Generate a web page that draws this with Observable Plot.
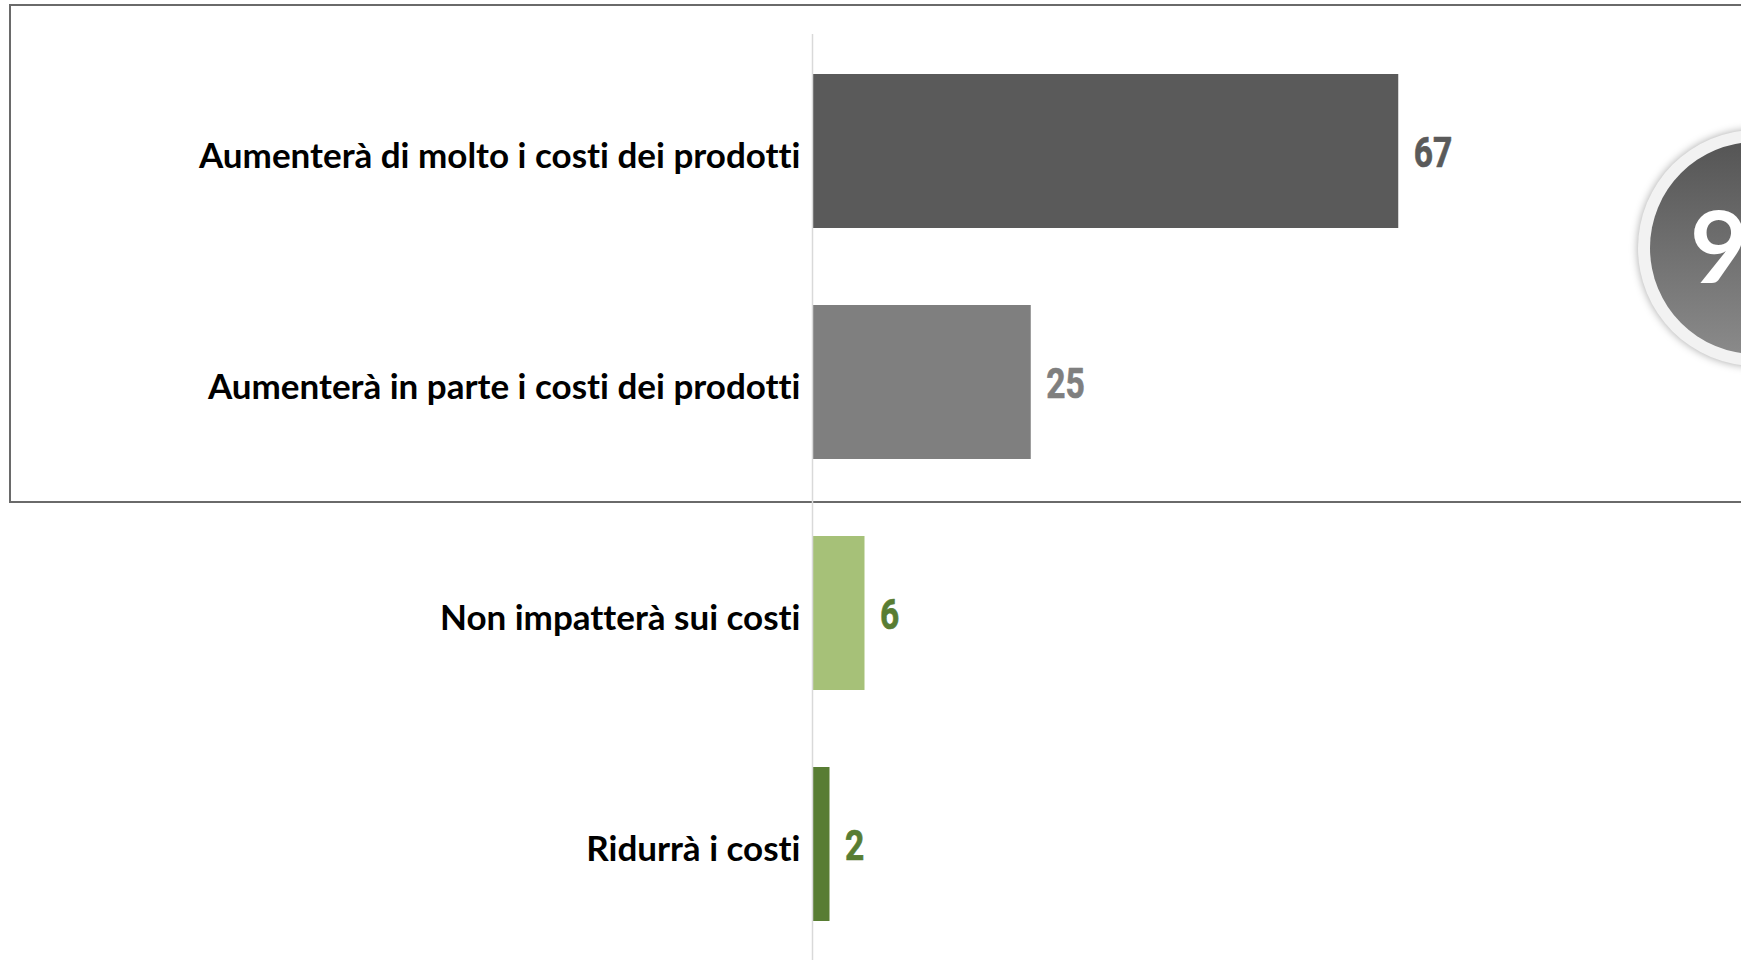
<!DOCTYPE html>
<html>
<head>
<meta charset="utf-8">
<script src="https://cdn.jsdelivr.net/npm/d3@7"></script>
<script src="https://cdn.jsdelivr.net/npm/@observablehq/plot@0.6"></script>
<style>
  html, body { margin: 0; padding: 0; background: #fff; overflow: hidden; width: 1741px; height: 961px; }
  #wrap { position: relative; width: 1741px; height: 961px; overflow: hidden; }
  #frame { position: absolute; left: 9px; top: 4px; width: 1800px; height: 499px; border: 2.5px solid #6a6a6a; box-sizing: border-box; }
  #chart { position: absolute; left: 0; top: 0; }
  #chart svg text { font-variant-ligatures: none; }
  #badge { position: absolute; left: 1638px; top: 130px; width: 236px; height: 236px; border-radius: 50%; background: #f2f2f2; box-shadow: 0 0 8px rgba(0,0,0,0.35); }
  #badge .inner { position: absolute; left: 12px; top: 12px; width: 212px; height: 212px; border-radius: 50%;
    background: linear-gradient(#555555, #8a8a8a); color: #fff; font-family: Lato, "Open Sans", sans-serif; font-weight: 700;
    font-size: 100px; line-height: 204px; text-indent: 40px; white-space: nowrap; }
</style>
</head>
<body>
<div id="wrap">
  <div id="frame"></div>
  <div id="chart"></div>
  <div id="badge"><div class="inner"></div></div>
</div>
<script>
const categories = [
  "Aumenterà di molto i costi dei prodotti",
  "Aumenterà in parte i costi dei prodotti",
  "Non impatterà sui costi",
  "Ridurrà i costi"
];
const values = [67, 25, 6, 2];
const barColors = ["#5a5a5a", "#7f7f7f", "#a6c178", "#587d33"];
const labelColors = ["#5a5a5a", "#7f7f7f", "#587d33", "#587d33"];
const highlighted = [0, 1]; // categories inside the framed box

const data = categories.map((c, i) => ({category: c, value: values[i], bar: barColors[i], lab: labelColors[i]}));

// narrow the value-label glyphs (condensed look)
function condense(factor) {
  return (index, scales, values, dims, ctx, next) => {
    const g = next(index, scales, values, dims, ctx);
    g.querySelectorAll("text").forEach(t => {
      const tr = t.getAttribute("transform");
      if (tr) {
        t.setAttribute("transform", tr + ` scale(${factor},1)`);
      } else {
        const x = +(t.getAttribute("x") || 0), y = +(t.getAttribute("y") || 0);
        t.removeAttribute("x"); t.removeAttribute("y");
        t.setAttribute("transform", `translate(${x},${y}) scale(${factor},1)`);
      }
    });
    return g;
  };
}

const chart = Plot.plot({
  width: 1741,
  height: 961,
  marginLeft: 812,
  marginRight: 54,
  marginTop: 34,
  marginBottom: 1,
  style: {background: "transparent", overflow: "visible"},
  x: {domain: [0, 100], axis: null},
  y: {domain: categories, paddingInner: 0.335, paddingOuter: 0.1675, label: null},
  marks: [
    Plot.barX(data, {x: "value", y: "category", fill: "bar"}),
    Plot.ruleX([0], {stroke: "#d9d9d9", strokeWidth: 1.5}),
    Plot.text(data, {x: "value", y: "category", text: d => String(d.value), fill: "lab", stroke: "lab", strokeWidth: 0.7,
      textAnchor: "start", dx: 15, dy: 2,
      fontSize: 43, fontWeight: "bold", fontFamily: "Roboto, 'Liberation Sans', sans-serif", render: condense(0.78)}),
    Plot.axisY({tickSize: 0, tickPadding: 12, dy: 5, fontSize: 35, fontWeight: "bold", fill: "#000",
      fontFamily: "Lato, 'Open Sans', sans-serif", label: null})
  ]
});
document.getElementById("chart").appendChild(chart);

const total = highlighted.reduce((s, i) => s + values[i], 0);
document.querySelector("#badge .inner").textContent = String(total);
</script>
</body>
</html>
